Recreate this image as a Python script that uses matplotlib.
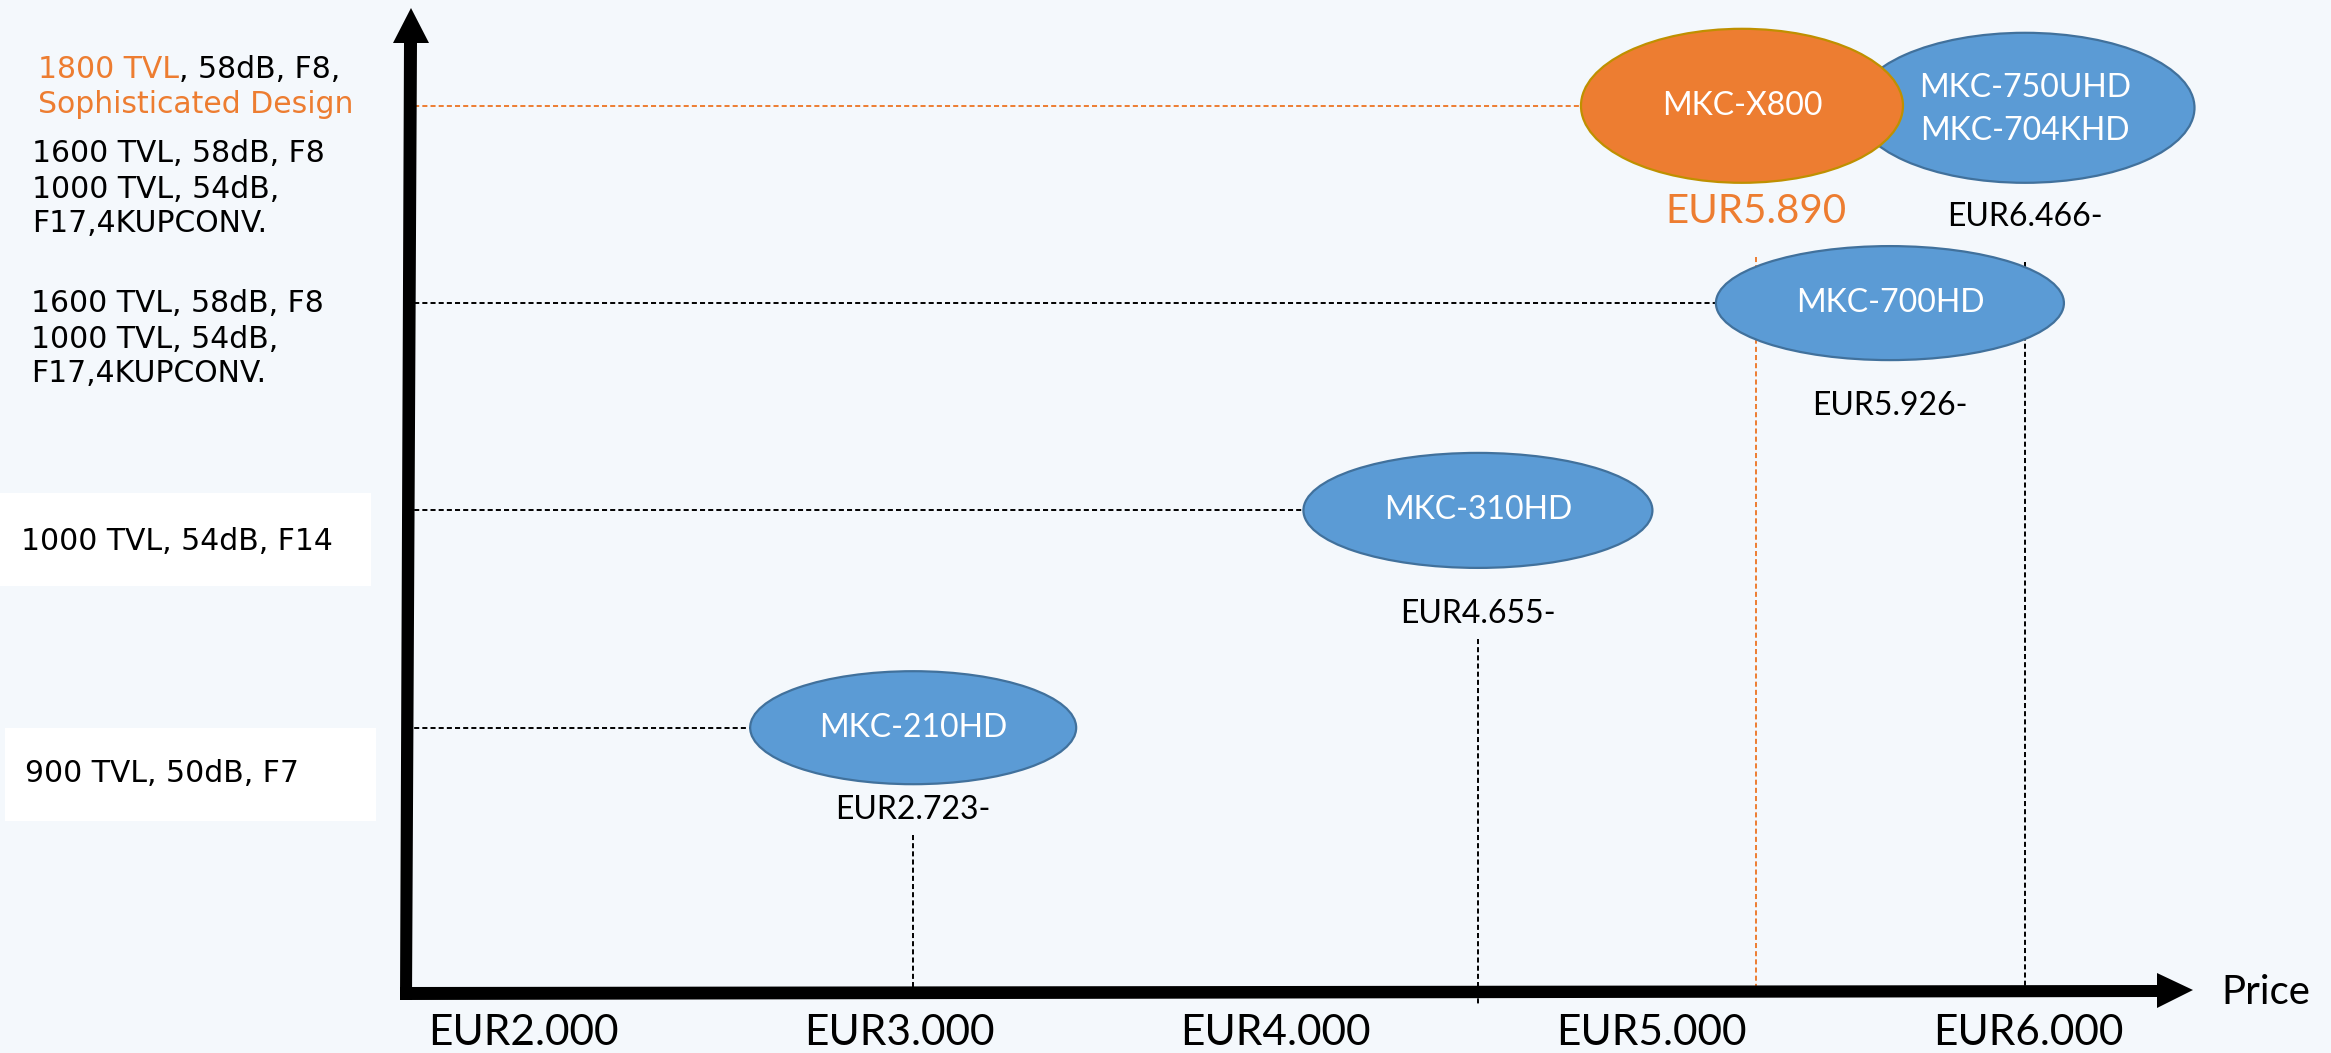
import matplotlib
matplotlib.use("Agg")
import matplotlib.pyplot as plt
from matplotlib.patches import Ellipse, Polygon, Rectangle

# ---------------- data ----------------
products = ["MKC-210HD", "MKC-310HD", "MKC-700HD", "MKC-X800", "MKC-750UHD\nMKC-704KHD"]
price_labels = ["EUR2.723-", "EUR4.655-", "EUR5.926-", "EUR5.890", "EUR6.466-"]
tier = [1, 2, 3, 4, 4]
# position of each product on the (schematic) price axis, as drawn
chart_x = [3037, 4538, 5633, 5277, 5992]
features = [
    "900 TVL, 50dB, F7",
    "1000 TVL, 54dB, F14",
    "1600 TVL, 58dB, F8\n1000 TVL, 54dB,\nF17,4KUPCONV.",
    "1800 TVL, 58dB, F8,\nSophisticated Design",
    "1600 TVL, 58dB, F8\n1000 TVL, 54dB,\nF17,4KUPCONV.",
]
highlight_phrases = ["1800 TVL", "Sophisticated Design"]
highlighted_product = "MKC-X800"
tick_values = [2000, 3000, 4000, 5000, 6000]
tick_labels = ["EUR2.000", "EUR3.000", "EUR4.000", "EUR5.000", "EUR6.000"]
axis_label = "Price"

# ---------------- style / layout ----------------
W, H, DPI = 2331, 1053, 100
BG = "#F4F8FC"
BLUE, BLUE_EDGE = "#5B9BD5", "#41719C"
ORANGE, ORANGE_EDGE = "#ED7D31", "#BF9000"
CAL = ["Lato", "DejaVu Sans"]
VER = ["DejaVu Sans"]

PX_PER_EUR = 0.37625
PX_PER_TIER = 207.3
AX_L, AX_B = 406, 993          # y-axis x pixel, x-axis y pixel (from top)
X_REF_PX = 523                 # pixel of EUR2.000
TIER_MID_PX, TIER_MID = 411.75, 2.5
row_nudge_px = {1: 5, 2: -5, 3: -5, 4: 5}   # small vertical layout nudges per row (down = +)

ell_w_px = [326, 349, 348, 322, 339]
ell_h_px = [113, 115, 114, 154, 150]
ell_dx_px = [0, 0, 0, -14, 0]
ell_dy_px = [0, 0, 0, 0, 2]
text_dy_px = [0, 0, 0, 0, 4]
label_dy_px = [82, 104, 103, 106, 111]
drop_top_px = [107, 129, None, 151, 156]
drop_below_axis_px = [0, 12, 0, 0, 0]
ell_fs = 23
price_fs = [23, 23, 23, 29, 23]
feat_pos = [(25, 774), (21, 541), (31, 339), (38, 87), (32, 189)]
feat_box = [(5, 728, 376, 821), (0, 493, 371, 586), None, None, None]
FEAT_FS = 21.5
LINE_PX = 35

fig = plt.figure(figsize=(W / DPI, H / DPI), dpi=DPI, facecolor=BG)
ax = fig.add_axes([AX_L / W, (H - AX_B) / H, 1 - AX_L / W, AX_B / H])
ax.set_facecolor(BG)
x0 = 2000 - (X_REF_PX - AX_L) / PX_PER_EUR
x1 = 2000 + (W - X_REF_PX) / PX_PER_EUR
y0 = TIER_MID - (AX_B - TIER_MID_PX) / PX_PER_TIER
y1 = TIER_MID + TIER_MID_PX / PX_PER_TIER
ax.set_xlim(x0, x1)
ax.set_ylim(y0, y1)
for s in ax.spines.values():
    s.set_visible(False)
ax.set_yticks([])
ax.set_xticks(tick_values, tick_labels)
ax.tick_params(axis="x", length=0, pad=15, labelsize=30.5)
for lab in ax.get_xticklabels():
    lab.set_family(CAL)
    lab.set_color("black")


def F(px, py):
    return (px / W, 1 - py / H)


# axes arrows (decoration)
for pts in ([(400, 1000), (412, 1000), (417, 43), (404, 43)],
            [(393, 43), (429, 43), (411, 8)],
            [(400, 1000), (2158, 997), (2158, 985), (400, 987)],
            [(2157, 973), (2157, 1008), (2193, 990)]):
    fig.patches.append(Polygon([F(*p) for p in pts], closed=True, transform=fig.transFigure,
                               facecolor="black", edgecolor="none", zorder=6))
fig.text(*F(2221, 993), axis_label, family=CAL, fontsize=29, ha="left", va="center")

dash = (0, (2.6, 1.6))
for i, name in enumerate(products):
    hl = name == highlighted_product
    face = ORANGE if hl else BLUE
    edge = ORANGE_EDGE if hl else BLUE_EDGE
    lc = ORANGE if hl else "black"
    x = chart_x[i]
    t = tier[i] - row_nudge_px[tier[i]] / PX_PER_TIER
    ex = x + ell_dx_px[i] / PX_PER_EUR
    ey = t - ell_dy_px[i] / PX_PER_TIER
    # horizontal guide from the y-axis
    if not (tier[i] == 4 and not hl):
        ax.plot([x0, ex], [t, t], color=lc, lw=1.4, ls=dash, zorder=1, clip_on=False)
    # vertical drop line to the price axis
    if drop_top_px[i] is not None:
        ax.plot([x, x], [t - drop_top_px[i] / PX_PER_TIER, y0 - drop_below_axis_px[i] / PX_PER_TIER],
                color=lc, lw=1.4, ls=dash, zorder=1, clip_on=False)
    ax.add_patch(Ellipse((ex, ey), ell_w_px[i] / PX_PER_EUR, ell_h_px[i] / PX_PER_TIER,
                         facecolor=face, edgecolor=edge, lw=1.6, zorder=4 if hl else 3))
    ax.text(ex, t - text_dy_px[i] / PX_PER_TIER, name, family=CAL, fontsize=ell_fs, color="white",
            ha="center", va="center", linespacing=1.55, zorder=5)
    ax.text(x, t - label_dy_px[i] / PX_PER_TIER, price_labels[i], family=CAL, fontsize=price_fs[i],
            color=ORANGE if hl else "black", ha="center", va="center", zorder=5)


def split_segments(line):
    segs, rest = [], line
    while rest:
        hit = None
        for ph in highlight_phrases:
            j = rest.find(ph)
            if j >= 0 and (hit is None or j < hit[0]):
                hit = (j, ph)
        if hit is None:
            segs.append((rest, "black"))
            break
        if hit[0] > 0:
            segs.append((rest[:hit[0]], "black"))
        segs.append((hit[1], ORANGE))
        rest = rest[hit[0] + len(hit[1]):]
    return segs


# left feature descriptions
for i, txt in enumerate(features):
    px, py = feat_pos[i]
    if feat_box[i] is not None:
        bx0, by0, bx1, by1 = feat_box[i]
        fig.patches.append(Rectangle(F(bx0, by1), (bx1 - bx0) / W, (by1 - by0) / H,
                                     transform=fig.transFigure, facecolor="white", edgecolor="none"))
    lines = txt.split("\n")
    n = len(lines)
    for k, line in enumerate(lines):
        cy = py + (k - (n - 1) / 2) * LINE_PX
        segs = split_segments(line) if products[i] == highlighted_product else [(line, "black")]
        last = None
        for s, c in segs:
            if last is None:
                last = fig.text(*F(px, cy), s, family=VER, fontsize=FEAT_FS, color=c,
                                ha="left", va="center")
            else:
                last = ax.annotate(s, xy=(1, 0), xycoords=last, family=VER, fontsize=FEAT_FS,
                                   color=c, ha="left", va="bottom", annotation_clip=False)

fig.savefig("out.png", dpi=DPI, facecolor=BG)
